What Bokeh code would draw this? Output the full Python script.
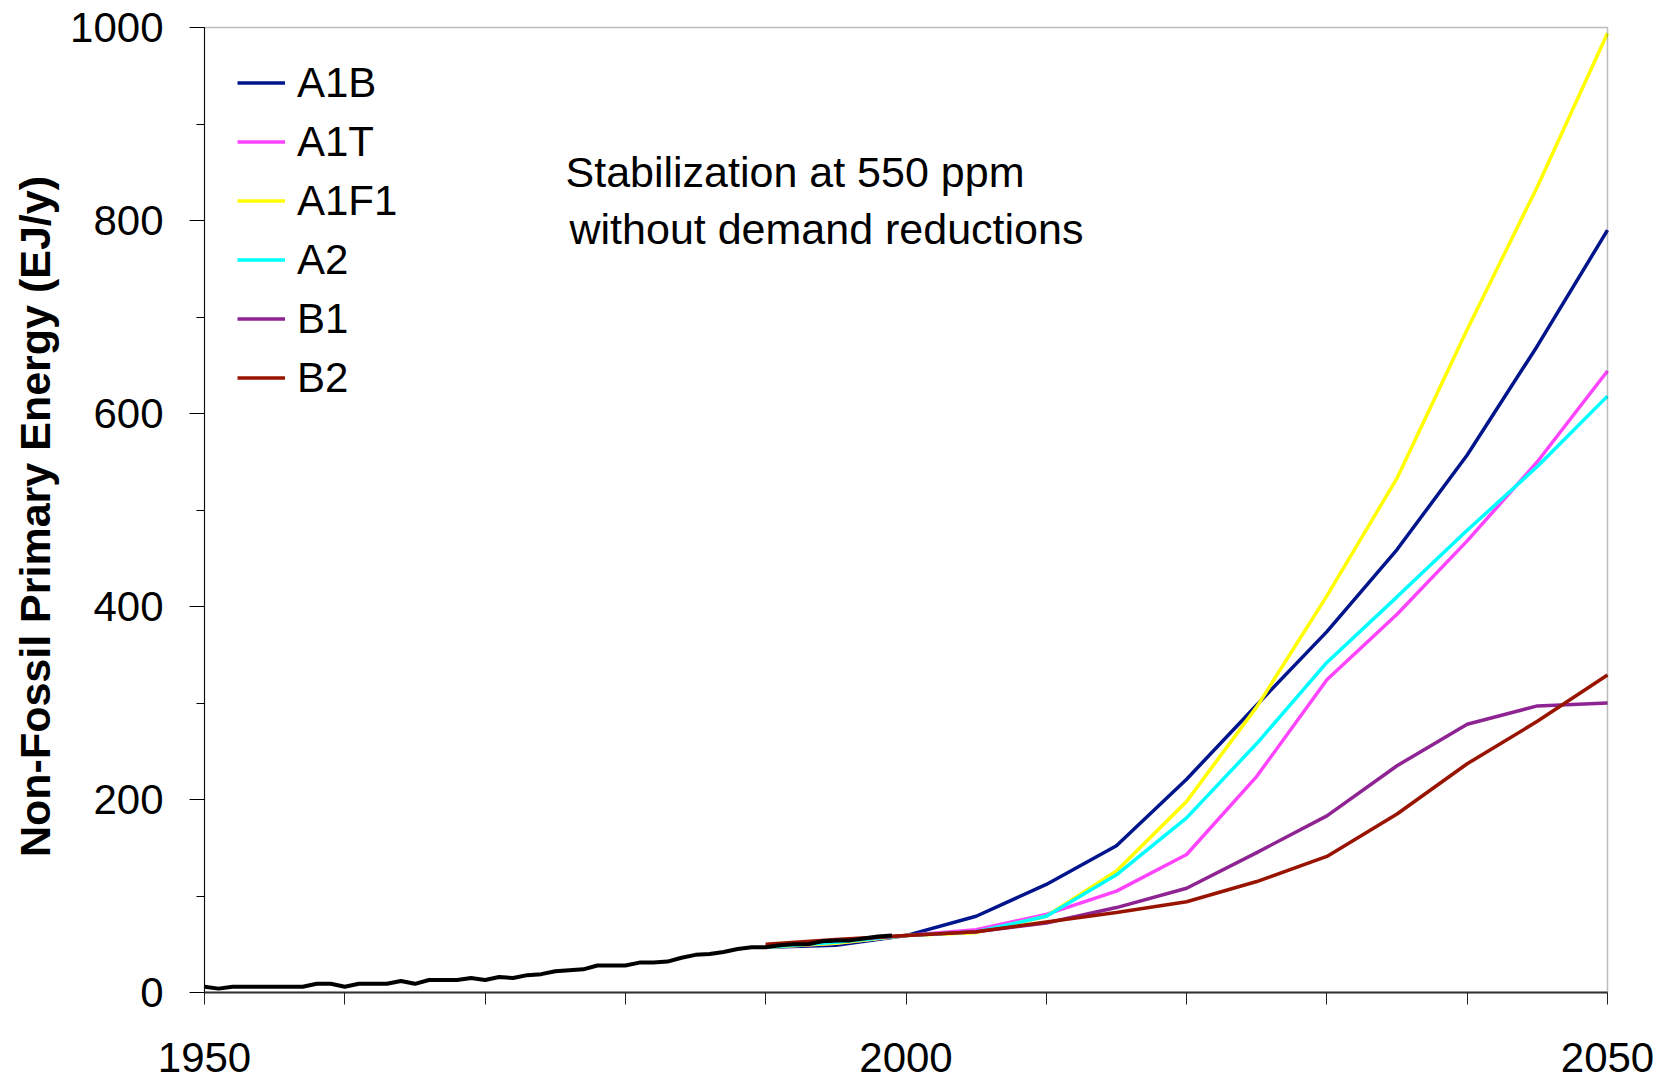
import math
from bokeh.plotting import figure
from bokeh.models import (Legend, LegendItem, Label, FixedTicker,
                          SingleIntervalTicker, Range1d, BoxAnnotation)
from bokeh.embed import file_html
from bokeh.resources import INLINE

# ---------------- data ----------------
hist_years = list(range(1950, 2000))
hist_values = [6, 4, 6, 6, 6, 6, 6, 6, 9, 9,
               6, 9, 9, 9, 12, 9, 13, 13, 13, 15,
               13, 16, 15, 18, 19, 22, 23, 24, 28, 28,
               28, 31, 31, 32, 36, 39, 40, 42, 45, 47,
               47, 49, 50, 50, 53, 54, 54, 56, 58, 59]

scen_years = [1990, 1995, 2000, 2005, 2010, 2015, 2020, 2025, 2030, 2035, 2040, 2045, 2050]
A1B = [47, 49, 59, 79, 112, 152, 221, 298, 374, 459, 557, 670, 790]
A1T = [47, 51, 59, 65, 81, 105, 143, 224, 324, 392, 468, 550, 644]
A1F1 = [47, 51, 59, 62, 79, 126, 198, 296, 411, 533, 687, 835, 994]
A2 = [47, 52, 59, 63, 79, 122, 181, 258, 342, 410, 479, 545, 618]
B1 = [49, 54, 59, 63, 72, 88, 108, 145, 183, 235, 278, 297, 300]
B2 = [50, 55, 59, 63, 73, 83, 94, 115, 141, 185, 237, 281, 329]

series_names = ["A1B", "A1T", "A1F1", "A2", "B1", "B2"]
series_values = [A1B, A1T, A1F1, A2, B1, B2]
series_colors = ["#00148C", "#FF44FF", "#FFFF00", "#00FFFF", "#8E2492", "#991400"]

x_ticks = [1950, 1960, 1970, 1980, 1990, 2000, 2010, 2020, 2030, 2040, 2050]
x_labelled = [1950, 2000, 2050]
x_min, x_max = 1950, 2050
y_min, y_max = 0, 1000

y_axis_title = "Non-Fossil Primary Energy (EJ/y)"
note_line1 = "Stabilization at 550 ppm"
note_line2 = "without demand reductions"

FONT = "Liberation Sans"

# ---------------- layout (pixels) ----------------
W, H = 1660, 1079
DATA_LEFT, DATA_RIGHT = 204, 1607      # x of 1950 and 2050
DATA_TOP, DATA_BOTTOM = 27, 992        # y of 1000 and 0
px_x = (DATA_RIGHT - DATA_LEFT) / (x_max - x_min)
px_y = (DATA_BOTTOM - DATA_TOP) / (y_max - y_min)
x_start = x_min - DATA_LEFT / px_x
x_end = x_max + (W - DATA_RIGHT) / px_x
y_end = y_max + DATA_TOP / px_y
y_start = y_min - (H - DATA_BOTTOM) / px_y

def to_x(px):
    return x_min + (px - DATA_LEFT) / px_x

def to_y(py):
    return y_min + (DATA_BOTTOM - py) / px_y

p = figure(width=W, height=H,
           x_range=Range1d(x_start, x_end), y_range=Range1d(y_start, y_end),
           output_backend="svg", toolbar_location=None,
           min_border_left=0, min_border_right=0,
           min_border_top=0, min_border_bottom=0)
p.background_fill_color = "white"
p.border_fill_color = "white"
p.outline_line_color = None
p.xgrid.grid_line_color = None
p.ygrid.grid_line_color = None

# box around the data area
p.add_layout(BoxAnnotation(left=x_min, right=x_max, bottom=y_min, top=y_max,
                           fill_color=None, fill_alpha=0,
                           line_color="#222222", line_width=1.5, level="overlay"))

# x axis along y = 0
p.xaxis.fixed_location = y_min
p.xaxis.bounds = (x_min, x_max)
p.xaxis.ticker = FixedTicker(ticks=x_ticks)
p.xaxis.major_label_overrides = {t: (str(t) if t in x_labelled else " ") for t in x_ticks}
p.xaxis.major_tick_out = 12
p.xaxis.major_tick_in = 0
p.xaxis.minor_tick_line_color = None
p.xaxis.axis_line_color = "#3a3a3a"
p.xaxis.axis_line_width = 2
p.xaxis.major_tick_line_color = "#222222"
p.xaxis.major_label_text_font = FONT
p.xaxis.major_label_text_font_size = "42px"
p.xaxis.major_label_text_color = "black"
p.xaxis.major_label_standoff = 29

# y axis along x = 1950
p.yaxis.fixed_location = x_min
p.yaxis.bounds = (y_min, y_max)
p.yaxis.ticker = SingleIntervalTicker(interval=200, num_minor_ticks=2)
p.yaxis.major_tick_out = 15
p.yaxis.major_tick_in = 0
p.yaxis.minor_tick_out = 8
p.yaxis.minor_tick_in = 0
p.yaxis.axis_line_color = "black"
p.yaxis.major_tick_line_color = "black"
p.yaxis.minor_tick_line_color = "black"
p.yaxis.major_label_text_font = FONT
p.yaxis.major_label_text_font_size = "42px"
p.yaxis.major_label_text_color = "black"
p.yaxis.major_label_standoff = 26

# y axis title
p.add_layout(Label(x=to_x(34), y=to_y(516), text=y_axis_title, angle=math.pi / 2,
                   text_font=FONT, text_font_style="bold", text_font_size="43px",
                   text_align="center", text_baseline="middle", text_color="black"))

# scenario lines
renderers = []
for name, vals, col in zip(series_names, series_values, series_colors):
    r = p.line(scen_years, vals, line_color=col, line_width=3.5)
    renderers.append((name, r))

# historical line
p.line(hist_years, hist_values, line_color="black", line_width=4)

legend = Legend(items=[LegendItem(label=n, renderers=[r]) for n, r in renderers],
                location=(DATA_LEFT + 33, H - DATA_TOP - 26 - 6 * 59),
                label_text_font=FONT, label_text_font_size="42px",
                label_text_color="black",
                glyph_width=48, glyph_height=59, label_height=59,
                label_standoff=12, spacing=0, padding=0, margin=0,
                border_line_color=None, background_fill_alpha=0)
p.add_layout(legend)

p.add_layout(Label(x=to_x(565), y=to_y(171), text=note_line1, text_font=FONT,
                   text_font_size="43px", text_baseline="alphabetic",
                   text_align="left", text_color="black"))
p.add_layout(Label(x=to_x(569), y=to_y(228), text=note_line2, text_font=FONT,
                   text_font_size="43px", text_baseline="alphabetic",
                   text_align="left", text_color="black"))

open("out.html", "w").write(file_html(p, INLINE))
